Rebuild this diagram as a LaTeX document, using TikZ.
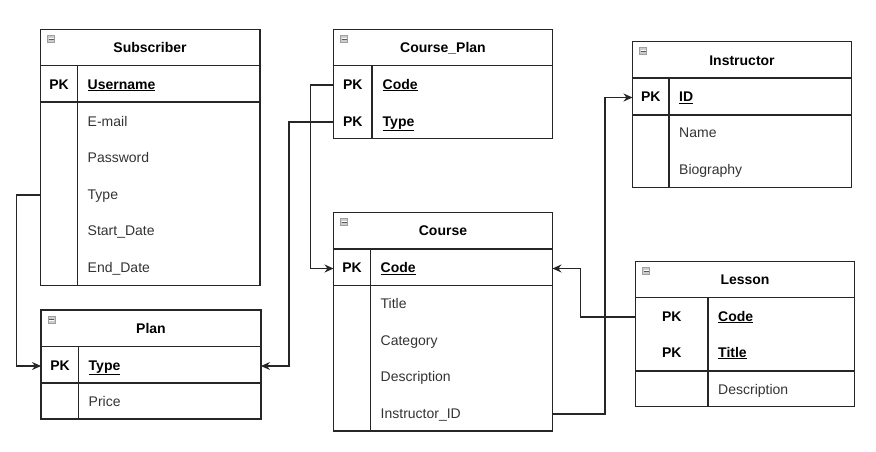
\documentclass[tikz,border=0pt]{standalone}
\usepackage{fontspec}
\setmainfont{Liberation Sans}
\usetikzlibrary{arrows.meta}
\newcommand{\tblicon}[2]{%
  \draw[line width=0.7pt, draw=gray!75, fill=gray!40] (#1+7,#2+6) rectangle (#1+14,#2+13);
  \fill[white] (#1+8,#2+8.6) rectangle (#1+13,#2+10.6);
  \draw[line width=0.9pt, black!65] (#1+8,#2+9.6) -- (#1+13,#2+9.6);}
\begin{document}
\begin{tikzpicture}[x=1pt,y=-1pt,
  tbl/.style={draw=black!85, line width=1.2pt, anchor=north west, inner sep=0pt, outer sep=0pt},
  sep/.style={draw=black!85, line width=1.2pt},
  ttl/.style={font=\fontsize{14}{16}\selectfont\bfseries, text=black, inner sep=0pt, text height=11pt, text depth=3pt},
  pk/.style={font=\fontsize{14}{16}\selectfont\bfseries, text=black, inner sep=0pt, text height=11pt, text depth=3pt},
  key/.style={font=\fontsize{14}{16}\selectfont\bfseries, text=black, anchor=west, inner sep=0pt, text height=11pt, text depth=3pt},
  fld/.style={font=\fontsize{14}{16}\selectfont, text=black!80, anchor=west, inner sep=0pt, text height=11pt, text depth=3pt},
  conn/.style={draw=black!85, line width=1.1pt},
  arr/.style={conn, -{Stealth[length=9pt,width=8pt,inset=3pt]}}
]
\useasboundingbox (0,0) rectangle (876,451);

% ---------------- Subscriber
\node[tbl, minimum width=219.5pt, minimum height=256pt] (sub) at (40.5,29.5) {};
\draw[sep] (40.5,65.5) -- (260,65.5);
\draw[sep] (40.5,102) -- (260,102);
\draw[sep] (77.5,65.5) -- (77.5,285.5);
\tblicon{40.5}{29.5}
\node[ttl] (subT) at (150,48.5) {Subscriber};
\node[pk] (subPK) at (59,85) {PK};
\node[key] (subUser) at (87.5,85) {\underline{Username}};
\node[fld] (subMail) at (87.5,122) {E-mail};
\node[fld] (subPass) at (87.5,158) {Password};
\node[fld] (subType) at (87.5,195) {Type};
\node[fld] (subStart) at (87.5,231) {Start\_Date};
\node[fld] (subEnd) at (87.5,268) {End\_Date};

% ---------------- Plan
\node[tbl, minimum width=220pt, minimum height=109pt] (plan) at (41,310) {};
\draw[sep] (41,346.5) -- (261,346.5);
\draw[sep] (41,383) -- (261,383);
\draw[sep] (78.5,346.5) -- (78.5,419);
\tblicon{41}{310}
\node[ttl] (planT) at (151,329) {Plan};
\node[pk] (planPK) at (60,366) {PK};
\node[key] (planType) at (88.5,366) {\underline{Type}};
\node[fld] (planPrice) at (88.5,402) {Price};

% ---------------- Course_Plan
\node[tbl, minimum width=219pt, minimum height=109pt] (cp) at (333.5,29.5) {};
\draw[sep] (333.5,65.5) -- (552.5,65.5);
\draw[sep] (372,65.5) -- (372,138.5);
\tblicon{333.5}{29.5}
\node[ttl] (cpT) at (443,48.5) {Course\_Plan};
\node[pk] (cpPK1) at (352.75,85) {PK};
\node[pk] (cpPK2) at (352.75,122) {PK};
\node[key] (cpCode) at (382.5,85) {\underline{Code}};
\node[key] (cpType) at (382.5,122) {\underline{Type}};

% ---------------- Course
\node[tbl, minimum width=219pt, minimum height=218.5pt] (course) at (333.5,212.5) {};
\draw[sep] (333.5,249) -- (552.5,249);
\draw[sep] (333.5,285.5) -- (552.5,285.5);
\draw[sep] (370.5,249) -- (370.5,431);
\tblicon{333.5}{212.5}
\node[ttl] (courseT) at (443,231.5) {Course};
\node[pk] (coursePK) at (352,268.5) {PK};
\node[key] (courseCode) at (380.5,268.5) {\underline{Code}};
\node[fld] (courseTitle) at (380.5,304.5) {Title};
\node[fld] (courseCat) at (380.5,341) {Category};
\node[fld] (courseDesc) at (380.5,377.5) {Description};
\node[fld] (courseInst) at (380.5,414) {Instructor\_ID};

% ---------------- Instructor
\node[tbl, minimum width=219pt, minimum height=146pt] (inst) at (632.5,41.5) {};
\draw[sep] (632.5,78) -- (851.5,78);
\draw[sep] (632.5,115) -- (851.5,115);
\draw[sep] (669,78) -- (669,187.5);
\tblicon{632.5}{41.5}
\node[ttl] (instT) at (742,61) {Instructor};
\node[pk] (instPK) at (650.75,97.5) {PK};
\node[key] (instID) at (679,97.5) {\underline{ID}};
\node[fld] (instName) at (679,133.5) {Name};
\node[fld] (instBio) at (679,170.5) {Biography};

% ---------------- Lesson
\node[tbl, minimum width=219pt, minimum height=145pt] (les) at (635.5,261.5) {};
\draw[sep] (635.5,297.5) -- (854.5,297.5);
\draw[sep] (635.5,371) -- (854.5,371);
\draw[sep] (708,297.5) -- (708,406.5);
\tblicon{635.5}{261.5}
\node[ttl] (lesT) at (745,280.5) {Lesson};
\node[pk] (lesPK1) at (671.75,317) {PK};
\node[pk] (lesPK2) at (671.75,353) {PK};
\node[key] (lesCode) at (718,317) {\underline{Code}};
\node[key] (lesTitle) at (718,353) {\underline{Title}};
\node[fld] (lesDesc) at (718,390) {Description};

% ---------------- Connectors
\coordinate (bendA) at (16.5,195);
\coordinate (bendB) at (289,122);
\coordinate (bendC) at (310.5,85);
\coordinate (bendD) at (605,414);
\coordinate (bendE) at (580.5,317);

\draw[arr] (sub.west |- subType) -- (bendA) |- (plan.west |- planType);
\draw[arr] (cp.west |- cpType) -- (bendB) |- (plan.east |- planType);
\draw[arr] (cp.west |- cpCode) -- (bendC) |- (course.west |- courseCode);
\draw[arr] (course.east |- courseInst) -- (bendD) |- (inst.west |- instID);
\draw[arr] (les.west |- lesCode) -- (bendE) |- (course.east |- courseCode);
\end{tikzpicture}
\end{document}
